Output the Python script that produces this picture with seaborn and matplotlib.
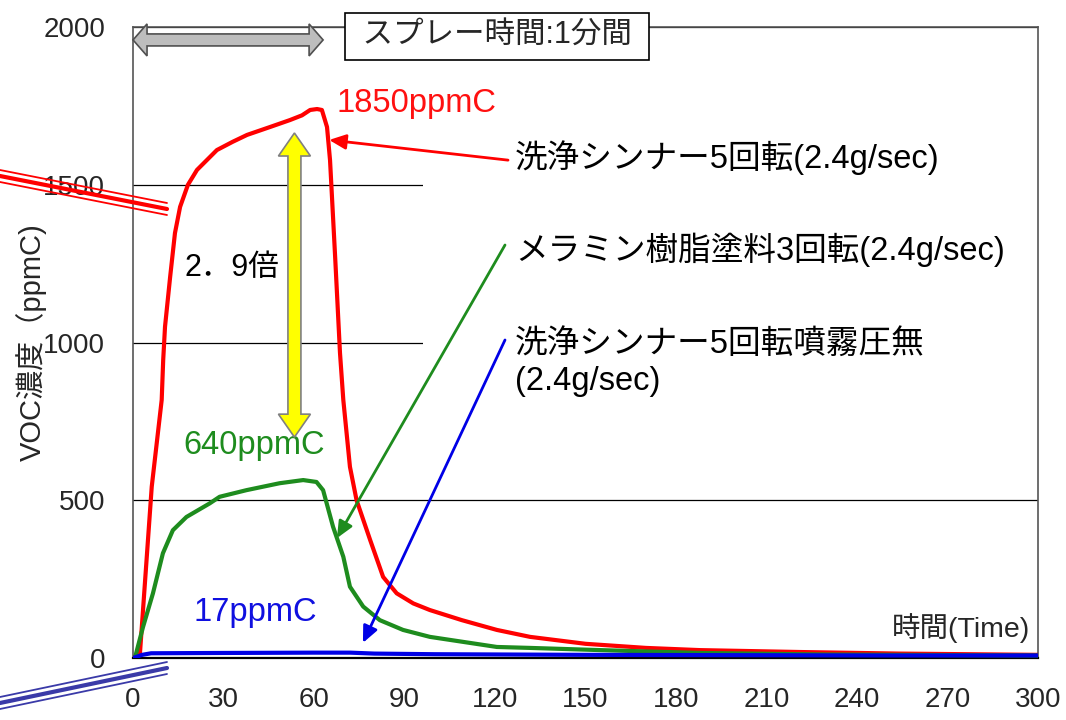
import matplotlib
matplotlib.use("Agg")
import matplotlib.pyplot as plt
import numpy as np
import pandas as pd
import seaborn as sns
from matplotlib.lines import Line2D
from matplotlib.patches import Polygon, Rectangle
from matplotlib.transforms import IdentityTransform

# VOC concentration (ppmC) vs time (s)
red_t = [0, 2.3, 6.2, 9.5, 10, 10.6, 12.3, 13.9, 15.6, 18.2, 21.2, 27.8, 33, 37.8,
         45.4, 52, 56, 58.7, 61, 62.6, 64.3, 65.3, 67, 68.6, 69.7, 71.9, 74.1, 78.6,
         82.9, 87.4, 92.9, 98.4, 109, 120.6, 131.6, 150, 170, 188, 221, 254, 300]
red_v = [0, 16, 543, 818, 945, 1050, 1208, 1347, 1430, 1500, 1547, 1610, 1636, 1658,
         1683, 1705, 1720, 1737, 1740, 1737, 1683, 1578, 1270, 967, 818, 606, 500, 374,
         257, 205, 173, 152, 120, 89, 67, 45, 32, 25, 19, 14, 10]

green_t = [0, 0.7, 3.3, 6.6, 9.9, 13.2, 17.7, 25.4, 28.7, 37.6, 48.6, 56.4, 60.8, 63,
           66.3, 69.7, 71.9, 76.3, 81.8, 89.5, 98.4, 109.5, 120.6, 131.6, 155, 188, 230, 300]
green_v = [0, 3, 98, 205, 332, 405, 447, 490, 511, 532, 554, 564, 558, 532,
           416, 321, 226, 163, 120, 89, 67, 51, 35, 32, 25, 16, 11, 8]

blue_t = [0, 3, 6, 30, 60, 72, 80, 100, 150, 200, 250, 300]
blue_v = [0, 10, 15, 16, 17, 17, 14, 12, 10, 9, 8, 8]

series_names = ["洗浄シンナー5回転(2.4g/sec)", "メラミン樹脂塗料3回転(2.4g/sec)",
                "洗浄シンナー5回転噴霧圧無"]
series_colors = ["#ff0000", "#1e8c1e", "#0000e6"]

x_ticks = [0, 30, 60, 90, 120, 150, 180, 210, 240, 270, 300]
y_ticks = [0, 500, 1000, 1500, 2000]

sns.set_style("white")
plt.rcParams["font.family"] = ["Liberation Sans", "Noto Sans CJK JP"]

df = pd.concat([
    pd.DataFrame({"t": red_t, "ppmC": red_v, "series": series_names[0]}),
    pd.DataFrame({"t": green_t, "ppmC": green_v, "series": series_names[1]}),
    pd.DataFrame({"t": blue_t, "ppmC": blue_v, "series": series_names[2]}),
])

fig = plt.figure(figsize=(10.66, 7.2), dpi=100)
ax = fig.add_axes([0.1248, 0.0861, 0.849, 0.8764])

sns.lineplot(data=df, x="t", y="ppmC", hue="series", hue_order=series_names,
             palette=series_colors, linewidth=3.0, estimator=None, sort=False,
             legend=False, ax=ax, zorder=3)

ax.set_xlim(0, 300)
ax.set_ylim(0, 2000)
ax.set_xticks(x_ticks)
ax.set_yticks(y_ticks)
ax.tick_params(axis="x", length=0, pad=21, labelsize=20)
ax.tick_params(axis="y", direction="in", length=5, color="#808080", pad=20, labelsize=20)
ax.set_xlabel("")
ax.set_ylabel("VOC濃度（ppmC)", fontsize=21)
ax.yaxis.set_label_coords(-0.095, 0.50)

ax.set_axisbelow(True)
ax.yaxis.grid(True, color="black", linewidth=0.9)
ax.xaxis.grid(False)
for side in ["left", "top", "right"]:
    ax.spines[side].set_color("#555555")
    ax.spines[side].set_linewidth(1.2)
ax.spines["bottom"].set_color("black")
ax.spines["bottom"].set_linewidth(1.6)

# white text panel that hides the gridlines behind the series labels
ax.add_patch(Rectangle((96, 900), 204, 750, facecolor="white", edgecolor="none", zorder=1))

lab_kw = dict(fontsize=23.5, ha="left", va="center", zorder=5)
ax.text(126.6, 1585, series_names[0], color="black", **lab_kw)
ax.text(126.6, 1293, series_names[1], color="black", **lab_kw)
ax.text(126.6, 992, series_names[2], color="black", **lab_kw)
ax.text(126.6, 875, "(2.4g/sec)", color="black", **lab_kw)

val_kw = dict(fontsize=23.5, ha="left", va="center", zorder=5)
ax.text(67.6, 1759, "1850ppmC", color="#ff1010", **val_kw)
ax.text(16.6, 675, "640ppmC", color="#1e8c1e", **val_kw)
ax.text(19.9, 143, "17ppmC", color="#1010e0", **val_kw)
ax.text(17.2, 1236, "2．9倍", color="black", fontsize=22, ha="left", va="center", zorder=5)
ax.text(297.3, 95, "時間(Time)", fontsize=20.5, ha="right", va="center", zorder=5)

ax.text(120.6, 1971, " スプレー時間:1分間 ", fontsize=22, ha="center", va="center",
        zorder=7, clip_on=False,
        bbox=dict(boxstyle="square,pad=0.28", facecolor="white", edgecolor="black", linewidth=1.2))

# thin pointer arrows from labels to curves
arrow_specs = [((124.3, 1578), (65.0, 1642), series_colors[0]),
               ((123.3, 1309), (67.6, 380), series_colors[1]),
               ((123.3, 1008), (76.2, 48), series_colors[2])]
for start, end, col in arrow_specs:
    ax.annotate("", xy=end, xytext=start, zorder=6,
                arrowprops=dict(arrowstyle="-|>,head_length=1.0,head_width=0.45",
                                color=col, lw=2.0, shrinkA=0, shrinkB=0, mutation_scale=10))


def fat_double_arrow(p0, p1, shaft, head_w, head_len, fc, ec):
    a = ax.transData.transform(p0)
    b = ax.transData.transform(p1)
    d = (b - a) / np.hypot(*(b - a))
    n = np.array([-d[1], d[0]])
    pts = [a,
           a + d * head_len + n * head_w / 2, a + d * head_len + n * shaft / 2,
           b - d * head_len + n * shaft / 2, b - d * head_len + n * head_w / 2,
           b,
           b - d * head_len - n * head_w / 2, b - d * head_len - n * shaft / 2,
           a + d * head_len - n * shaft / 2, a + d * head_len - n * head_w / 2]
    poly = Polygon(pts, closed=True, transform=IdentityTransform(), facecolor=fc,
                   edgecolor=ec, linewidth=1.2, zorder=6)
    fig.add_artist(poly)


fat_double_arrow((0, 1959), (63, 1959), 12, 32, 14, "#bdbdbd", "#505050")
fat_double_arrow((53.5, 1664), (53.5, 700), 13, 32, 23, "#ffff00", "#808080")

# axis-break style decorations at the left edge
W, H = 1066.0, 720.0


def deco(x0, y0, x1, y1, col, lw):
    fig.add_artist(Line2D([x0 / W, x1 / W], [1 - y0 / H, 1 - y1 / H],
                          color=col, linewidth=lw, transform=fig.transFigure, zorder=8))


for off, lw in [(-6, 1.3), (0, 3.0), (6, 1.3)]:
    deco(0, 176 + off, 167, 209 + off, "#ff0000", lw)
    deco(0, 703 + off, 167, 668 + off, "#3a3aa8", lw)

fig.savefig("out.png", dpi=100)
